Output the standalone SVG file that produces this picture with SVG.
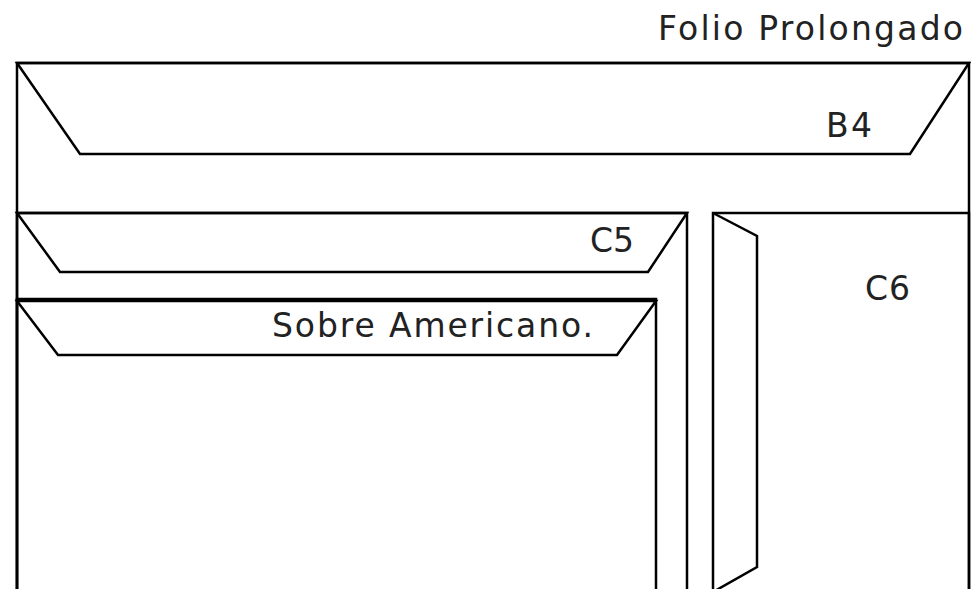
<svg xmlns="http://www.w3.org/2000/svg" width="971" height="589" viewBox="0 0 971 589">
<style>
.s{fill:none;stroke:#000;stroke-width:2.5;stroke-linejoin:miter}
.t{font-family:"DejaVu Sans","Liberation Sans",sans-serif;font-size:33px;fill:#222}
</style>
<rect width="971" height="589" fill="#fff"/>
<g id="folio">
<text class="t" x="658" y="40" textLength="305" lengthAdjust="spacing">Folio Prolongado</text>
<path class="s" d="M17,600 V63 H969 V600"/>
</g>
<g id="b4">
<polygon class="s" points="17,63 80,154 910,154 969,63"/>
<text class="t" x="826" y="137" textLength="46" lengthAdjust="spacing">B4</text>
</g>
<g id="c5">
<path class="s" d="M17,600 V213 H687 V600"/>
<polygon class="s" points="17,213 60,272 648,272 687,213"/>
<text class="t" x="590" y="252" textLength="44" lengthAdjust="spacing">C5</text>
</g>
<g id="sobre-americano">
<path class="s" d="M17,600 V299 H656 V600"/>
<polygon class="s" points="17,301 58,355 617,355 656,301"/>
<text class="t" x="272" y="337" textLength="321" lengthAdjust="spacing">Sobre Americano.</text>
</g>
<g id="c6">
<path class="s" d="M713,600 V213 H969 V600"/>
<polyline class="s" points="713,213 757,236 757,567 713,592"/>
<text class="t" x="865" y="300" textLength="45" lengthAdjust="spacing">C6</text>
</g>
<g id="connectors"/>
</svg>
